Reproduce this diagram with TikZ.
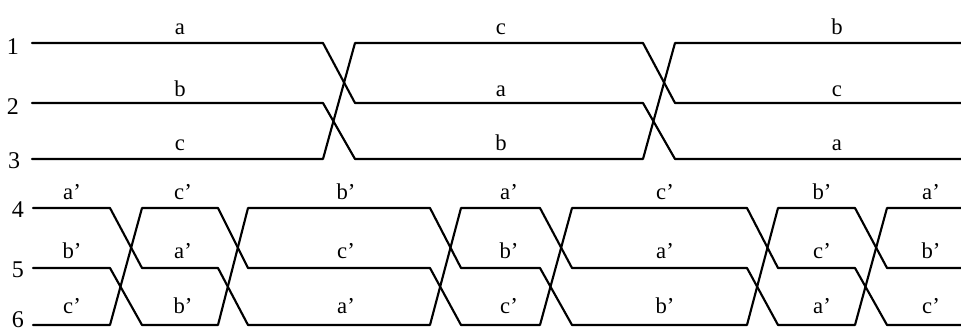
\documentclass[tikz,border=0pt]{standalone}
\usepackage{fontspec}
\setmainfont{Liberation Serif}

\tikzset{
  wire/.style={line width=1.6pt,line cap=round,line join=round},
  lbl/.style={font=\fontsize{17}{19}\selectfont,inner sep=0pt,anchor=base},
  num/.style={font=\fontsize{18}{20}\selectfont,inner sep=0pt}
}

\begin{document}
\begin{tikzpicture}[x=0.75pt,y=-0.75pt]
  \useasboundingbox (0,0) rectangle (961,331);
  % line numbers
  \node[num] (n1) at (13,47) {1};
  \node[num] (n2) at (13,107) {2};
  \node[num] (n3) at (14,161) {3};
  \node[num] (n4) at (18,210) {4};
  \node[num] (n5) at (18,270) {5};
  \node[num] (n6) at (18,320) {6};
  % upper bundle, two crossings
  \draw[wire] (32,43) -- (323,43) -- (355,103) -- (643,103) -- (675,159) -- (961,159);
  \draw[wire] (32,103) -- (323,103) -- (355,159) -- (643,159) -- (675,43) -- (961,43);
  \draw[wire] (32,159) -- (323,159) -- (355,43) -- (643,43) -- (675,103) -- (961,103);
  % lower bundle, six crossings
  \draw[wire] (33,208) -- (110,208) -- (142,268) -- (218,268) -- (248,325) -- (430,325) -- (461,208)
    -- (540,208) -- (572,268) -- (747,268) -- (778,325) -- (855,325) -- (887,208) -- (961,208);
  \draw[wire] (33,268) -- (110,268) -- (142,325) -- (218,325) -- (248,208) -- (430,208) -- (461,268)
    -- (540,268) -- (572,325) -- (747,325) -- (778,208) -- (855,208) -- (887,268) -- (961,268);
  \draw[wire] (33,325) -- (110,325) -- (142,208) -- (218,208) -- (248,268) -- (430,268) -- (461,325)
    -- (540,325) -- (572,208) -- (747,208) -- (778,268) -- (855,268) -- (887,325) -- (961,325);
  % phase labels
  \foreach \x/\p/\q/\r [count=\i] in {180/a/b/c, 501/c/a/b, 837/b/c/a} {
    \node[lbl] (u\i a) at (\x,35) {\p};
    \node[lbl] (u\i b) at (\x,97) {\q};
    \node[lbl] (u\i c) at (\x,151) {\r};
  }
  \foreach \x/\p/\q/\r [count=\i] in {72/a/b/c, 183/c/a/b, 346/b/c/a, 509/a/b/c,
                                      665/c/a/b, 822/b/c/a, 931/a/b/c} {
    \node[lbl] (l\i a) at (\x,200) {\p'};
    \node[lbl] (l\i b) at (\x,259) {\q'};
    \node[lbl] (l\i c) at (\x,314) {\r'};
  }
\end{tikzpicture}
\end{document}
